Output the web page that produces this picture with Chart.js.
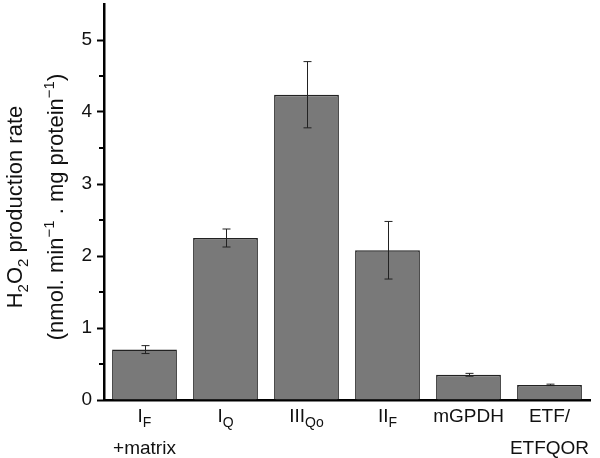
<!DOCTYPE html>
<html>
<head>
<meta charset="utf-8">
<script src="https://cdn.jsdelivr.net/npm/chart.js@4.4.1/dist/chart.umd.min.js"></script>
<style>
  html, body { margin: 0; padding: 0; background: #fff; }
  #wrap { width: 600px; height: 458px; position: relative; }
</style>
</head>
<body>
<div id="wrap"><canvas id="h2o2"></canvas></div>
<script>
// bar labels, split so the subscripts can be drawn smaller
const labelMain = ["I", "I", "III", "II", "mGPDH", "ETF/"];
const labelSub = ["F", "Q", "Qo", "F", "", ""];
const labelLine2 = ["+matrix", "", "", "", "", "ETFQOR"];

const rates = [0.70, 2.25, 4.24, 2.08, 0.35, 0.21];
const rateErr = [0.055, 0.125, 0.46, 0.40, 0.02, 0.01];

const yTicks = [0, 1, 2, 3, 4, 5];

const FONT = "'Liberation Sans', Arial, sans-serif";
const ink = "#111";

// draw text with a smaller piece after it (sub or sup), returns width
function drawParts(ctx, parts, x, y, align) {
  let total = 0;
  parts.forEach((p) => {
    ctx.font = `${p.size}px ${FONT}`;
    total += ctx.measureText(p.t).width;
  });
  let cx = align === "center" ? x - total / 2 : x;
  ctx.textAlign = "left";
  parts.forEach((p) => {
    ctx.font = `${p.size}px ${FONT}`;
    ctx.fillText(p.t, cx, y + (p.dy || 0));
    cx += ctx.measureText(p.t).width;
  });
  return total;
}

const errorBars = {
  id: "errorBars",
  afterDatasetsDraw(chart) {
    const ctx = chart.ctx;
    const yScale = chart.scales.y;
    const meta = chart.getDatasetMeta(0);
    ctx.save();
    ctx.strokeStyle = "#222";
    ctx.lineWidth = 1;
    meta.data.forEach((bar, i) => {
      const top = yScale.getPixelForValue(rates[i] + rateErr[i]);
      const bot = yScale.getPixelForValue(rates[i] - rateErr[i]);
      const x = Math.round(bar.x) + 0.5;
      ctx.beginPath();
      ctx.moveTo(x, top);
      ctx.lineTo(x, bot);
      ctx.moveTo(x - 4, top);
      ctx.lineTo(x + 4, top);
      ctx.moveTo(x - 4, bot);
      ctx.lineTo(x + 4, bot);
      ctx.stroke();
    });
    ctx.restore();
  },
};

const axisText = {
  id: "axisText",
  afterDraw(chart) {
    const ctx = chart.ctx;
    const xScale = chart.scales.x;
    const yScale = chart.scales.y;
    ctx.save();
    ctx.fillStyle = ink;
    ctx.textBaseline = "alphabetic";

    // minor ticks at the half steps
    ctx.strokeStyle = "#000";
    ctx.lineWidth = 2;
    for (let v = 0.5; v < 5.5; v += 1) {
      const py = yScale.getPixelForValue(v);
      ctx.beginPath();
      ctx.moveTo(yScale.right - 5, py);
      ctx.lineTo(yScale.right, py);
      ctx.stroke();
    }

    // category labels
    labelMain.forEach((m, i) => {
      const cx = xScale.getPixelForValue(i);
      const parts = [{ t: m, size: 19 }];
      if (labelSub[i]) parts.push({ t: labelSub[i], size: 14, dy: 5 });
      drawParts(ctx, parts, cx, 422, "center");
      if (labelLine2[i]) drawParts(ctx, [{ t: labelLine2[i], size: 19 }], cx, 454, "center");
    });

    // y axis title, two rotated lines
    const midY = 207;
    ctx.save();
    ctx.translate(22, midY);
    ctx.rotate(-Math.PI / 2);
    drawParts(ctx, [
      { t: "H", size: 22 },
      { t: "2", size: 15, dy: 6 },
      { t: "O", size: 22 },
      { t: "2", size: 15, dy: 6 },
      { t: " production rate", size: 22 },
    ], 0, 0, "center");
    ctx.restore();

    ctx.save();
    ctx.translate(63, midY);
    ctx.rotate(-Math.PI / 2);
    drawParts(ctx, [
      { t: "(nmol. min", size: 22 },
      { t: "\u22121", size: 15, dy: -9 },
      { t: " . mg protein", size: 22 },
      { t: "\u22121", size: 15, dy: -9 },
      { t: ")", size: 22 },
    ], 0, 0, "center");
    ctx.restore();

    ctx.restore();
  },
};

const h2o2Chart = new Chart(document.getElementById("h2o2"), {
  type: "bar",
  data: {
    labels: labelMain.map((m, i) => m + labelSub[i]),
    datasets: [
      {
        label: "H2O2 production rate",
        data: rates,
        backgroundColor: "#797979",
        borderColor: "#222",
        borderWidth: 1.5,
        barPercentage: 0.8,
        categoryPercentage: 1.0,
      },
    ],
  },
  options: {
    responsive: true,
    maintainAspectRatio: false,
    animation: false,
    layout: { padding: { top: 4, right: 10, left: 0, bottom: 0 } },
    plugins: {
      legend: { display: false },
      tooltip: { enabled: false },
    },
    scales: {
      x: {
        grid: { display: false },
        border: { color: "#000", width: 2.5 },
        ticks: { display: false },
        afterFit: (scale) => {
          scale.height = 58;
          scale.paddingLeft = 0;
          scale.paddingRight = 0;
        },
      },
      y: {
        min: 0,
        max: 5.5,
        afterBuildTicks: (scale) => {
          scale.ticks = yTicks.map((v) => ({ value: v }));
        },
        grid: {
          drawOnChartArea: false,
          tickLength: 7,
          tickWidth: 2,
          tickColor: "#000",
        },
        border: { color: "#000", width: 2.5 },
        ticks: {
          color: ink,
          padding: 5,
          font: { family: FONT, size: 19 },
        },
        afterFit: (scale) => {
          scale.width = 104;
          scale.paddingTop = 0;
          scale.paddingBottom = 0;
        },
      },
    },
  },
  plugins: [errorBars, axisText],
});
</script>
</body>
</html>
